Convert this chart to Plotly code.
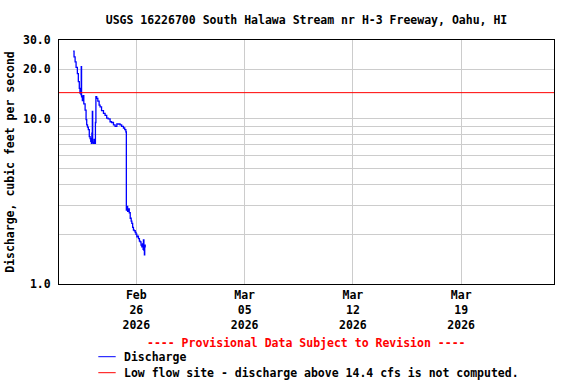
import plotly.graph_objects as go

# Discharge record (cfs)
times = [
    "2026-02-21 22:00", "2026-02-21 23:20", "2026-02-22 01:00", "2026-02-22 02:30",
    "2026-02-22 04:30", "2026-02-22 06:00", "2026-02-22 07:30", "2026-02-22 08:30",
    "2026-02-22 10:00", "2026-02-22 10:30", "2026-02-22 11:00", "2026-02-22 12:15",
    "2026-02-22 13:15", "2026-02-22 14:30", "2026-02-22 16:30", "2026-02-22 18:00",
    "2026-02-22 19:00", "2026-02-22 20:15", "2026-02-22 21:30", "2026-02-22 23:00",
    "2026-02-23 00:15", "2026-02-23 01:15", "2026-02-23 02:15", "2026-02-23 03:00",
    "2026-02-23 03:45", "2026-02-23 04:15", "2026-02-23 05:15", "2026-02-23 06:30",
    "2026-02-23 07:30", "2026-02-23 08:30", "2026-02-23 09:15", "2026-02-23 10:30",
    "2026-02-23 12:15", "2026-02-23 14:15", "2026-02-23 15:45", "2026-02-23 18:00",
    "2026-02-23 21:00", "2026-02-23 23:30", "2026-02-24 02:00", "2026-02-24 04:15",
    "2026-02-24 07:15", "2026-02-24 09:30", "2026-02-24 12:30", "2026-02-24 15:00",
    "2026-02-24 17:45", "2026-02-24 19:45", "2026-02-24 22:45", "2026-02-25 01:15",
    "2026-02-25 04:00", "2026-02-25 06:00", "2026-02-25 07:45", "2026-02-25 08:15",
    "2026-02-25 08:30", "2026-02-25 09:15", "2026-02-25 10:30", "2026-02-25 11:45",
    "2026-02-25 13:00", "2026-02-25 14:30", "2026-02-25 16:00", "2026-02-25 17:00",
    "2026-02-25 18:15", "2026-02-25 19:30", "2026-02-25 21:00", "2026-02-25 22:15",
    "2026-02-25 23:30", "2026-02-26 00:45", "2026-02-26 02:00", "2026-02-26 03:15",
    "2026-02-26 04:45", "2026-02-26 06:00", "2026-02-26 07:15", "2026-02-26 08:30",
    "2026-02-26 09:30", "2026-02-26 10:30", "2026-02-26 11:00", "2026-02-26 11:45",
    "2026-02-26 12:30", "2026-02-26 13:00", "2026-02-26 13:45", "2026-02-26 14:45",
]
discharge = [
    25.7, 23.7, 22.1, 20.5,
    18.8, 16.8, 15.3, 14.3,
    14.0, 20.7, 13.6, 12.9,
    13.8, 12.3, 11.3, 9.9,
    9.2, 8.9, 8.6, 7.8,
    7.6, 7.3, 7.1, 8.2,
    11.1, 7.2, 7.1, 7.5,
    7.1, 9.5, 13.6, 13.3,
    12.8, 12.1, 11.8, 11.2,
    10.8, 10.5, 10.1, 10.0,
    9.6, 9.5, 9.2, 9.0,
    9.3, 9.3, 9.2, 9.0,
    8.8, 8.6, 8.35, 8.3,
    2.8, 2.95, 2.75, 2.85,
    2.7, 2.5, 2.4, 2.33,
    2.2, 2.12, 2.1, 2.05,
    2.0, 1.93, 1.95, 1.88,
    1.82, 1.80, 1.72, 1.68,
    1.75, 1.62, 1.85, 1.6,
    1.5, 1.72, 1.68, 1.68,
]

low_flow_limit = 14.4

x_range = ["2026-02-21", "2026-03-25"]
x_tickvals = ["2026-02-26", "2026-03-05", "2026-03-12", "2026-03-19"]
x_ticktext = ["Feb<br>26<br>2026", "Mar<br>05<br>2026", "Mar<br>12<br>2026", "Mar<br>19<br>2026"]

y_tickvals = [1, 10, 20, 30]
y_ticktext = ["1.0", "10.0", "20.0", "30.0"]
y_minor = [2, 3, 4, 5, 6, 7, 8, 9]

FONT = "DejaVu Sans Mono"
fnt = dict(family=FONT, size=11.5, color="black", weight="bold")

fig = go.Figure()
fig.add_trace(go.Scatter(
    x=times, y=discharge, mode="lines",
    line=dict(color="#0000ff", width=1.3, shape="hv"),
    showlegend=False, hoverinfo="skip",
))

fig.add_shape(type="line", xref="paper", x0=0, x1=1, yref="y",
              y0=low_flow_limit, y1=low_flow_limit,
              line=dict(color="#ff0000", width=1))

fig.update_layout(
    width=576, height=384,
    margin=dict(l=59, r=22, t=40, b=100),
    paper_bgcolor="white", plot_bgcolor="white",
    font=fnt,
    title=dict(text="USGS 16226700 South Halawa Stream nr H-3 Freeway, Oahu, HI",
               x=0.5, xref="paper", y=1 - 20 / 384, yanchor="middle",
               font=fnt),
    xaxis=dict(
        type="date", range=x_range, automargin=False,
        tickvals=x_tickvals, ticktext=x_ticktext,
        showgrid=True, gridcolor="#cccccc", gridwidth=1,
        showline=True, linecolor="black", linewidth=1, mirror=True,
        ticks="", tickfont=fnt, zeroline=False,
    ),
    yaxis=dict(
        type="log", range=[0, 1.47712], automargin=False,
        tickvals=y_tickvals, ticktext=y_ticktext,
        showgrid=True, gridcolor="#cccccc", gridwidth=1,
        minor=dict(tickvals=y_minor, showgrid=True, gridcolor="#cccccc", gridwidth=1, ticks=""),
        showline=True, linecolor="black", linewidth=1, mirror=True,
        ticks="", tickfont=fnt, ticklabelstandoff=5,
        title=dict(text="Discharge, cubic feet per second", font=fnt, standoff=5),
    ),
)

fig.add_annotation(text="---- Provisional Data Subject to Revision ----",
                   xref="paper", yref="paper", x=0.5, y=(284 - 343) / 244,
                   xanchor="center", yanchor="middle", showarrow=False,
                   font=dict(family=FONT, size=11.5, color="#ff0000", weight="bold"))

legend_items = [("Discharge", "#0000ff", 356.7), ("Low flow site - discharge above 14.4 cfs is not computed.", "#ff0000", 372.7)]
for label, color, ypx in legend_items:
    yp = (284 - ypx) / 244
    fig.add_shape(type="line", xref="paper", yref="paper",
                  x0=(98.3 - 59) / 495, x1=(115.7 - 59) / 495, y0=yp, y1=yp,
                  line=dict(color=color, width=1))
    fig.add_annotation(text=label, xref="paper", yref="paper",
                       x=(121.7 - 59) / 495, y=yp, xanchor="left", yanchor="middle",
                       showarrow=False, font=fnt)

fig.write_html("out.html", config={"displayModeBar": False},
               post_script="document.body.style.margin='0';")
